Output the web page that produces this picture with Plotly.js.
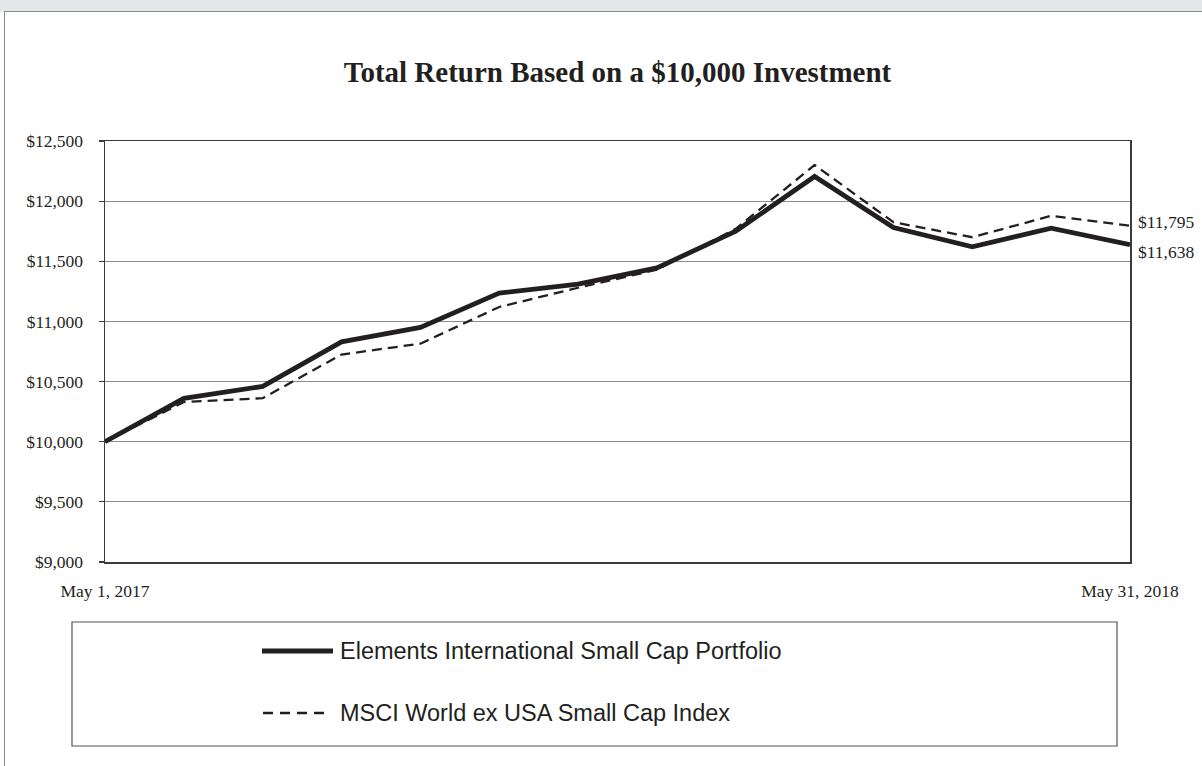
<!DOCTYPE html>
<html>
<head>
<meta charset="utf-8">
<script src="https://cdn.plot.ly/plotly-3.0.1.min.js"></script>
<style>
  html, body { margin: 0; padding: 0; background: #ffffff; width: 1202px; height: 766px; overflow: hidden; }
  #strip { position: absolute; left: 0; top: 0; width: 1202px; height: 12px; background: #e6e7e8; }
  #topline { position: absolute; left: 5px; top: 11px; width: 1197px; height: 0; border-top: 1.6px solid #8a8a8a; }
  #leftline { position: absolute; left: 4px; top: 11px; width: 0; height: 760px; border-left: 1.6px solid #8a8a8a; }
  #chart { position: absolute; left: 0; top: 0; width: 1202px; height: 766px; }
</style>
</head>
<body>
<div id="strip"></div>
<div id="topline"></div>
<div id="leftline"></div>
<div id="chart"></div>
<script>
// ---- data ----
const dates = ['2017-05-01','2017-05-31','2017-06-30','2017-07-31','2017-08-31','2017-09-30',
               '2017-10-31','2017-11-30','2017-12-31','2018-01-31','2018-02-28','2018-03-31',
               '2018-04-30','2018-05-31'];
const portfolioValues = [10000,10360,10460,10830,10950,11235,11310,11445,11750,12205,11780,11620,11775,11638];
const indexValues     = [10000,10330,10362,10725,10815,11120,11280,11430,11770,12300,11825,11700,11878,11795];
const seriesNames = ['Elements International Small Cap Portfolio', 'MSCI World ex USA Small Cap Index'];
const xTickLabels = ['May 1, 2017', 'May 31, 2018'];
const chartTitle = 'Total Return Based on a $10,000 Investment';

const ink = '#231f20';
const serif = 'Liberation Serif, Times New Roman, serif';
const sans = 'Liberation Sans, Arial, sans-serif';

const fmt = v => '$' + v.toLocaleString('en-US');

const traces = [
  { x: dates, y: indexValues, name: seriesNames[1], type: 'scatter', mode: 'lines',
    line: { color: ink, width: 2.3, dash: '10px,6px' }, hoverinfo: 'skip' },
  { x: dates, y: portfolioValues, name: seriesNames[0], type: 'scatter', mode: 'lines',
    line: { color: ink, width: 4.8 }, hoverinfo: 'skip' }
];

const lastP = portfolioValues[portfolioValues.length - 1];
const lastI = indexValues[indexValues.length - 1];

const layout = {
  width: 1202, height: 766,
  margin: { l: 105, r: 72, t: 141, b: 204 },
  paper_bgcolor: 'rgba(0,0,0,0)',
  plot_bgcolor: '#ffffff',
  showlegend: false,
  title: { text: chartTitle, xref: 'paper', x: 0.5, xanchor: 'center', y: 1 - 72/766, yanchor: 'middle',
           font: { family: serif, size: 29, color: ink, weight: 'bold' } },
  xaxis: {
    type: 'category', range: [0, dates.length - 1],
    tickvals: [dates[0], dates[dates.length - 1]], ticktext: xTickLabels,
    ticks: 'outside', ticklen: 12, tickcolor: 'rgba(0,0,0,0)',
    tickfont: { family: serif, size: 17.5, color: ink },
    showgrid: false, showline: true, mirror: true, linecolor: '#3a3a3a', linewidth: 1.5,
    zeroline: false, fixedrange: true
  },
  yaxis: {
    range: [9000, 12500], dtick: 500, tick0: 9000,
    tickprefix: '$', tickformat: ',d',
    ticks: 'outside', ticklen: 5, tickcolor: '#3a3a3a', tickwidth: 1.2,
    ticklabelstandoff: 12,
    tickfont: { family: serif, size: 17.5, color: ink },
    showgrid: true, gridcolor: '#8c8c8c', gridwidth: 1.2,
    showline: true, mirror: true, linecolor: '#3a3a3a', linewidth: 1.5,
    zeroline: false, fixedrange: true
  },
  shapes: [
    // legend frame
    { type: 'rect', xref: 'paper', yref: 'paper',
      x0: (72-105)/1025, x1: (1117-105)/1025, y0: (562-746)/421, y1: (562-622)/421,
      line: { color: '#555555', width: 1.2 }, fillcolor: 'rgba(0,0,0,0)' },
    // legend samples
    { type: 'line', xref: 'paper', yref: 'paper',
      x0: (262-105)/1025, x1: (333-105)/1025, y0: (562-651)/421, y1: (562-651)/421,
      line: { color: ink, width: 4.8 } },
    { type: 'line', xref: 'paper', yref: 'paper',
      x0: (263-105)/1025, x1: (327-105)/1025, y0: (562-713)/421, y1: (562-713)/421,
      line: { color: ink, width: 2.3, dash: '10px,7px' } }
  ],
  annotations: [
    { xref: 'paper', yref: 'paper', x: (338-105)/1025, y: (562-651)/421, xanchor: 'left', yanchor: 'middle',
      text: seriesNames[0], showarrow: false, font: { family: sans, size: 23.5, color: ink } },
    { xref: 'paper', yref: 'paper', x: (338-105)/1025, y: (562-713)/421, xanchor: 'left', yanchor: 'middle',
      text: seriesNames[1], showarrow: false, font: { family: sans, size: 23.5, color: ink } },
    { xref: 'paper', yref: 'y', x: 1, y: lastI, xanchor: 'left', yanchor: 'middle', xshift: 6, yshift: 4,
      text: fmt(lastI), showarrow: false, font: { family: serif, size: 17.5, color: ink } },
    { xref: 'paper', yref: 'y', x: 1, y: lastP, xanchor: 'left', yanchor: 'middle', xshift: 6, yshift: -7,
      text: fmt(lastP), showarrow: false, font: { family: serif, size: 17.5, color: ink } }
  ]
};

Plotly.newPlot('chart', traces, layout, { displayModeBar: false, staticPlot: true });
</script>
</body>
</html>
